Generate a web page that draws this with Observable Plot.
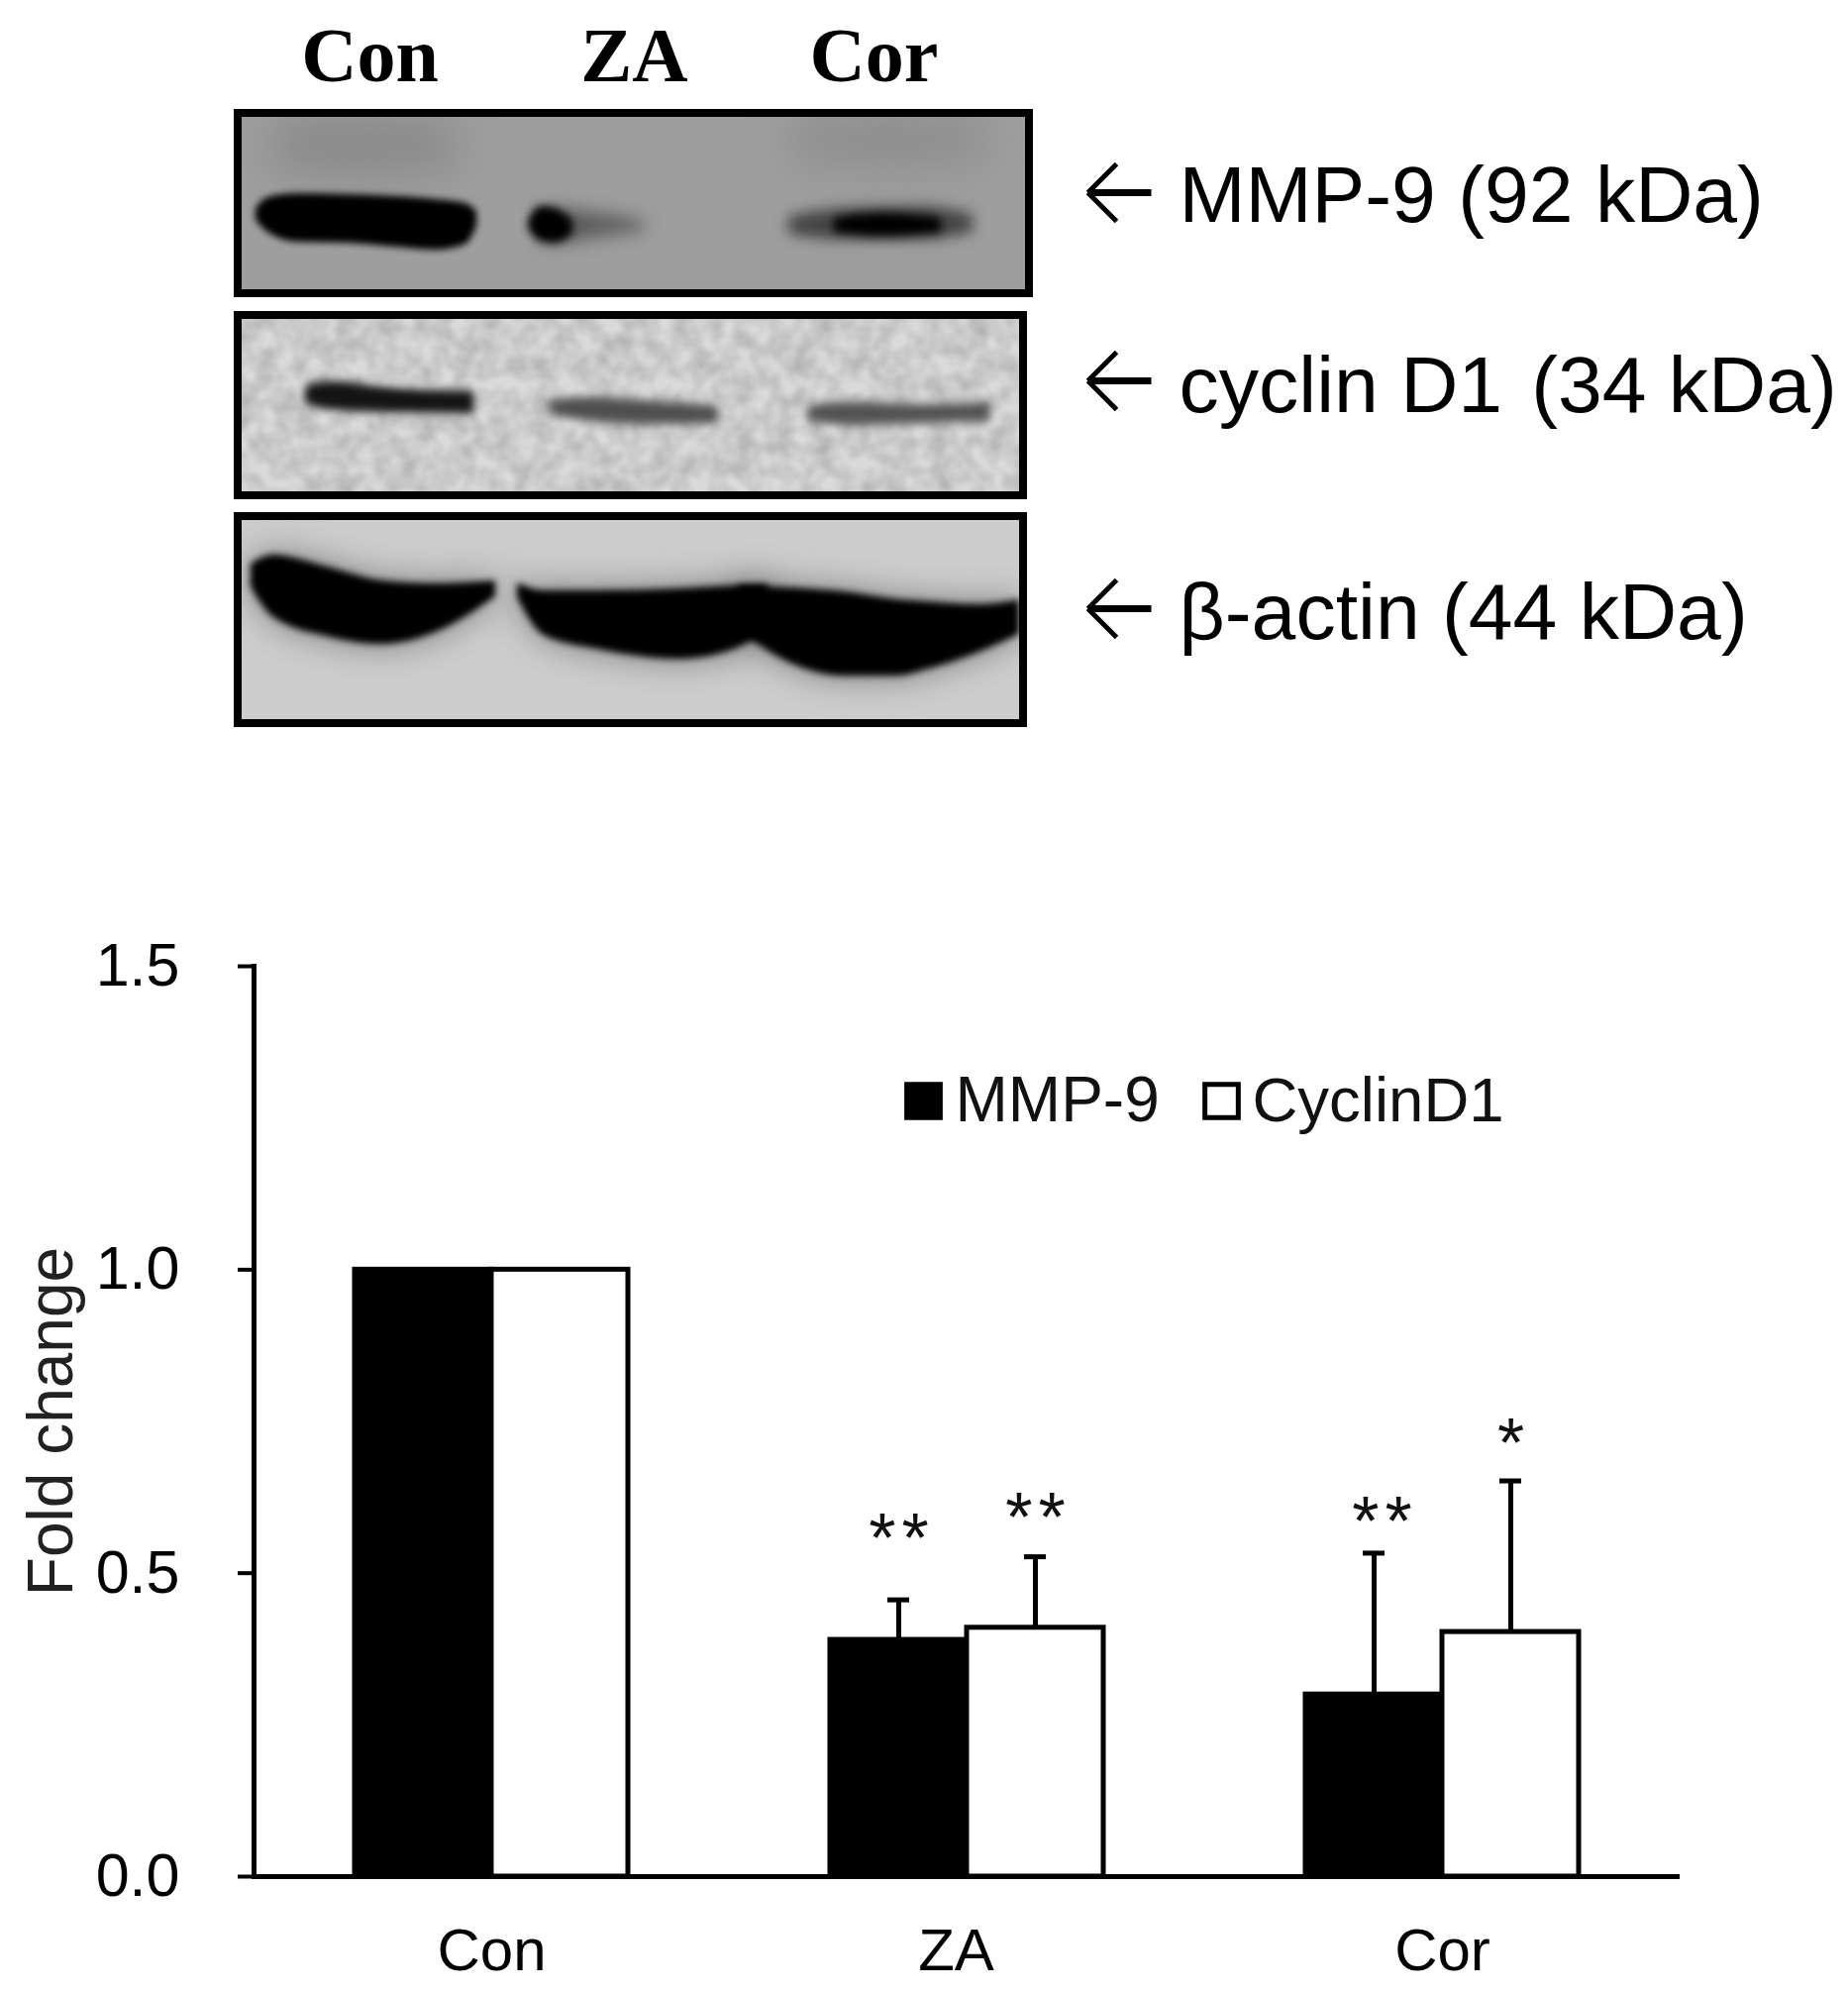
<!DOCTYPE html>
<html><head><meta charset="utf-8">
<script src="https://cdn.jsdelivr.net/npm/d3@7"></script>
<script src="https://cdn.jsdelivr.net/npm/@observablehq/plot@0.6"></script>
<style>html,body{margin:0;padding:0;background:#fff}svg{display:block}</style>
</head><body>
<svg width="0" height="0" style="position:absolute"><defs>
<filter id="mottle" x="0" y="0" width="100%" height="100%" color-interpolation-filters="sRGB">
<feTurbulence type="fractalNoise" baseFrequency="0.05" numOctaves="2" seed="7"/>
<feColorMatrix values="0 0 0 0 0  0 0 0 0 0  0 0 0 0 0  0.3 0 0 0 -0.08"/>
</filter></defs></svg>
<div id="blot"></div><div id="chart"></div>
<script>
// ---- bar chart values ----
const categories = ["Con", "ZA", "Cor"];
const series = ["MMP-9", "CyclinD1"];
const mmp9 = [1, 0.39, 0.30];
const cyclin = [1, 0.41, 0.403];
const mmp9Err = [0, 0.066, 0.233];
const cyclinErr = [0, 0.117, 0.249];
const mmp9Star = ["", "**", "**"];
const cyclinStar = ["", "**", "*"];
const mmp9StarAt = [0, 0.568, 0.596];
const cyclinStarAt = [0, 0.602, 0.725];
const yTicks = [0, 0.5, 1, 1.5];

// ---- blot labels ----
const laneLabels = ["Con", "ZA", "Cor"];
const laneAt = [373, 640, 882];
const proteins = ["MMP-9 (92 kDa)", "cyclin D1 \u200a(34 kDa)", "\u03b2-actin (44 kDa)"];
const proteinBase = [223, 415, 644];
const proteinArrow = [194, 384, 614];

// ---- blot panels in gel coordinates ----
const panelX1 = [240, 240, 240];
const panelX2 = [1039, 1033, 1033];
const panelY1 = [114, 318, 521];
const panelY2 = [296, 500, 730];
const panelShade = ["#9e9e9e", "#dadada", "#cdcdcd"];

const prof = (x, top, bottom) => x.map((v, i) => ({x: v, top: top[i], bottom: bottom[i]}));
const hazeMmpCon = prof([275, 350, 460], [120, 112, 120], [170, 180, 172]);
const hazeMmpCor = prof([800, 900, 995], [118, 112, 118], [160, 170, 160]);
const mmpCon = prof([258, 270, 300, 350, 400, 440, 470, 481], [210, 199, 195, 196, 198, 201, 205, 213], [222, 234, 244, 245, 249, 252, 246, 228]);
const mmpZaSmear = prof([545, 575, 610, 650], [210, 211, 216, 222], [246, 244, 238, 232]);
const mmpZa = prof([533, 545, 560, 578], [222, 208, 210, 222], [230, 243, 245, 236]);
const mmpCorWide = prof([796, 850, 930, 982], [218, 210, 208, 216], [236, 242, 242, 234]);
const mmpCorCore = prof([842, 890, 950], [220, 215, 220], [234, 238, 234]);
const cycCon = prof([308, 330, 400, 478], [390, 385, 392, 395], [406, 413, 416, 417]);
const cycZa = prof([555, 600, 660, 725], [404, 401, 405, 410], [418, 425, 428, 427]);
const cycCor = prof([815, 860, 930, 999], [410, 406, 408, 406], [424, 429, 427, 425]);
const actCon = prof([253, 275, 330, 385, 439, 500], [569, 560, 572, 586, 589, 586], [592, 622, 642, 650, 638, 602]);
const actZa = prof([522, 549, 604, 686, 741, 775], [588, 596, 596, 594, 591, 590], [603, 641, 655, 665, 655, 636]);
const actCor = prof([745, 796, 851, 906, 933, 988, 1029], [591, 593, 597, 605, 607, 610, 605], [636, 668, 682, 682, 676, 658, 640]);

const gutterX1 = [180, 1041, 1037, 180, 236, 236, 180];
const gutterX2 = [236, 1080, 1080, 1080, 1041, 1037, 1080];
const gutterY1 = [60, 100, 300, 60, 300, 504, 734];
const gutterY2 = [780, 305, 780, 110, 314, 517, 780];

const arrowShaft = 64;
const arrowX = 1098;
const wing = 29;

const band = (p, fill, blur, opacity = 1) => Plot.areaY(p, {
  x: "x", y1: "top", y2: "bottom", fill, fillOpacity: opacity,
  curve: "monotone-x", imageFilter: `blur(${blur}px)`
});

const idx = d3.range(3);
const sans = "Liberation Sans";

const blot = Plot.plot({
  width: 1866, height: 760, margin: 0,
  x: {domain: [0, 1866], range: [0, 1866], axis: null},
  y: {domain: [0, 760], range: [0, 760], axis: null},
  style: {background: "white", fontFamily: sans},
  marks: [
    Plot.rect(idx, {x1: i => panelX1[i], x2: i => panelX2[i], y1: i => panelY1[i], y2: i => panelY2[i], fill: i => panelShade[i]}),
    Plot.rect([1], {x1: i => panelX1[i], x2: i => panelX2[i], y1: i => panelY1[i], y2: i => panelY2[i], fill: "black", imageFilter: "url(#mottle)"}),
    band(hazeMmpCon, "#8b8b8b", 20),
    band(hazeMmpCor, "#8e8e8e", 20),
    band(mmpCon, "black", 3.5),
    band(mmpZaSmear, "#4a4a4a", 9, 0.8),
    band(mmpZa, "black", 4),
    band(mmpCorWide, "#444", 7),
    band(mmpCorCore, "black", 5),
    band(cycCon, "#141414", 4.5),
    band(cycZa, "#4e4e4e", 5),
    band(cycCor, "#525252", 5),
    band(actCon, "#606060", 18, 0.8),
    band(actZa, "#606060", 18, 0.8),
    band(actCor, "#606060", 18, 0.8),
    band(actCon, "black", 3.5),
    band(actZa, "black", 3.5),
    band(actCor, "black", 3.5),
    Plot.rect(d3.range(gutterX1.length), {x1: i => gutterX1[i], x2: i => gutterX2[i], y1: i => gutterY1[i], y2: i => gutterY2[i], fill: "white"}),
    Plot.rect(idx, {x1: i => panelX1[i], x2: i => panelX2[i], y1: i => panelY1[i], y2: i => panelY2[i], stroke: "black", strokeWidth: 8, fill: "none"}),
    Plot.text(idx, {x: i => laneAt[i], y: 81, text: i => laneLabels[i], fontFamily: "Liberation Serif", fontWeight: "bold", fontSize: 78, lineAnchor: "bottom"}),
    Plot.text(idx, {x: 1190, y: i => proteinBase[i], text: i => proteins[i], fontFamily: sans, fontSize: 80.5, textAnchor: "start", lineAnchor: "bottom", fill: "black"}),
    Plot.link(idx, {x1: arrowX, x2: arrowX + arrowShaft, y1: i => proteinArrow[i], y2: i => proteinArrow[i], stroke: "black", strokeWidth: 7}),
    Plot.link(idx, {x1: arrowX, x2: arrowX + wing, y1: i => proteinArrow[i], y2: i => proteinArrow[i] - wing, stroke: "black", strokeWidth: 5}),
    Plot.link(idx, {x1: arrowX, x2: arrowX + wing, y1: i => proteinArrow[i], y2: i => proteinArrow[i] + wing, stroke: "black", strokeWidth: 5})
  ]
});
document.getElementById("blot").append(blot);

// ---- bar chart ----
const rows = categories.flatMap((c, i) => [
  {category: c, series: series[0], value: mmp9[i], err: mmp9Err[i], star: mmp9Star[i], starAt: mmp9StarAt[i]},
  {category: c, series: series[1], value: cyclin[i], err: cyclinErr[i], star: cyclinStar[i], starAt: cyclinStarAt[i]}
]);
const withErr = rows.filter(d => d.err > 0);
const isCorMmp = d => d.category === "Cor" && d.series === series[0];
const starOptions = {fx: "category", x: "series", y: "starAt", text: d => d.star.split("").join("\u200a"), fontSize: 70, lineAnchor: "middle", dy: 8, fill: "#111"};

const chart = Plot.plot({
  width: 1866, height: 1251,
  marginLeft: 255, marginRight: 169, marginTop: 215, marginBottom: 117,
  fx: {domain: categories, padding: 0, axis: null},
  x: {domain: series, paddingInner: 0, paddingOuter: 0.729, axis: null},
  y: {domain: [0, 1.5], axis: null},
  color: {domain: series, range: ["black", "white"]},
  style: {background: "white", fontFamily: sans},
  marks: [
    Plot.ruleY([0], {stroke: "black", strokeWidth: 5}),
    Plot.frame({anchor: "left", facetAnchor: "left", stroke: "black", strokeWidth: 5}),
    Plot.axisY({ticks: yTicks, tickFormat: d3.format(".1f"), tickSize: 16, tickPadding: 59, fontSize: 61, strokeWidth: 4, label: null, fill: "black", color: "black"}),
    Plot.axisFx({ticks: ["Con", "Cor"], anchor: "bottom", tickSize: 0, tickPadding: 52, fontSize: 60, label: null, fill: "black", color: "black"}),
    Plot.axisFx({ticks: ["ZA"], anchor: "bottom", tickSize: 0, tickPadding: 52, fontSize: 60, dx: -11, label: null, fill: "black", color: "black"}),
    Plot.ruleX(withErr, {fx: "category", x: "series", y1: "value", y2: d => d.value + d.err, stroke: "black", strokeWidth: 5}),
    Plot.tickY(withErr, {fx: "category", x: "series", y: d => d.value + d.err, stroke: "black", strokeWidth: 5, insetLeft: 58, insetRight: 58}),
    Plot.barY(rows, {fx: "category", x: "series", y: "value", fill: "series", stroke: "black", strokeWidth: 5}),
    Plot.text(withErr.filter(d => !isCorMmp(d)), starOptions),
    Plot.text(withErr.filter(isCorMmp), {...starOptions, dx: 8}),
    Plot.text(["Fold change"], {fx: () => "Con", frameAnchor: "left", textAnchor: "middle", dx: -204, text: d => d, rotate: -90, fontSize: 64, fill: "#222"}),
    Plot.dot([series[0]], {fx: () => "ZA", frameAnchor: "top-left", dx: 196, dy: 136, r: 21, symbol: "square", fill: "black", stroke: "black"}),
    Plot.text([series[0]], {fx: () => "ZA", frameAnchor: "top-left", dx: 228, dy: 156, text: d => d, fontSize: 64, textAnchor: "start", lineAnchor: "bottom", fill: "#111"}),
    Plot.dot([series[1]], {fx: () => "ZA", frameAnchor: "top-left", dx: 497, dy: 136, r: 19, symbol: "square", fill: "white", stroke: "black", strokeWidth: 5}),
    Plot.text([series[1]], {fx: () => "ZA", frameAnchor: "top-left", dx: 528, dy: 156, text: d => d, fontSize: 63.5, textAnchor: "start", lineAnchor: "bottom", fill: "#111"})
  ]
});
document.getElementById("chart").append(chart);
</script>
</body></html>
